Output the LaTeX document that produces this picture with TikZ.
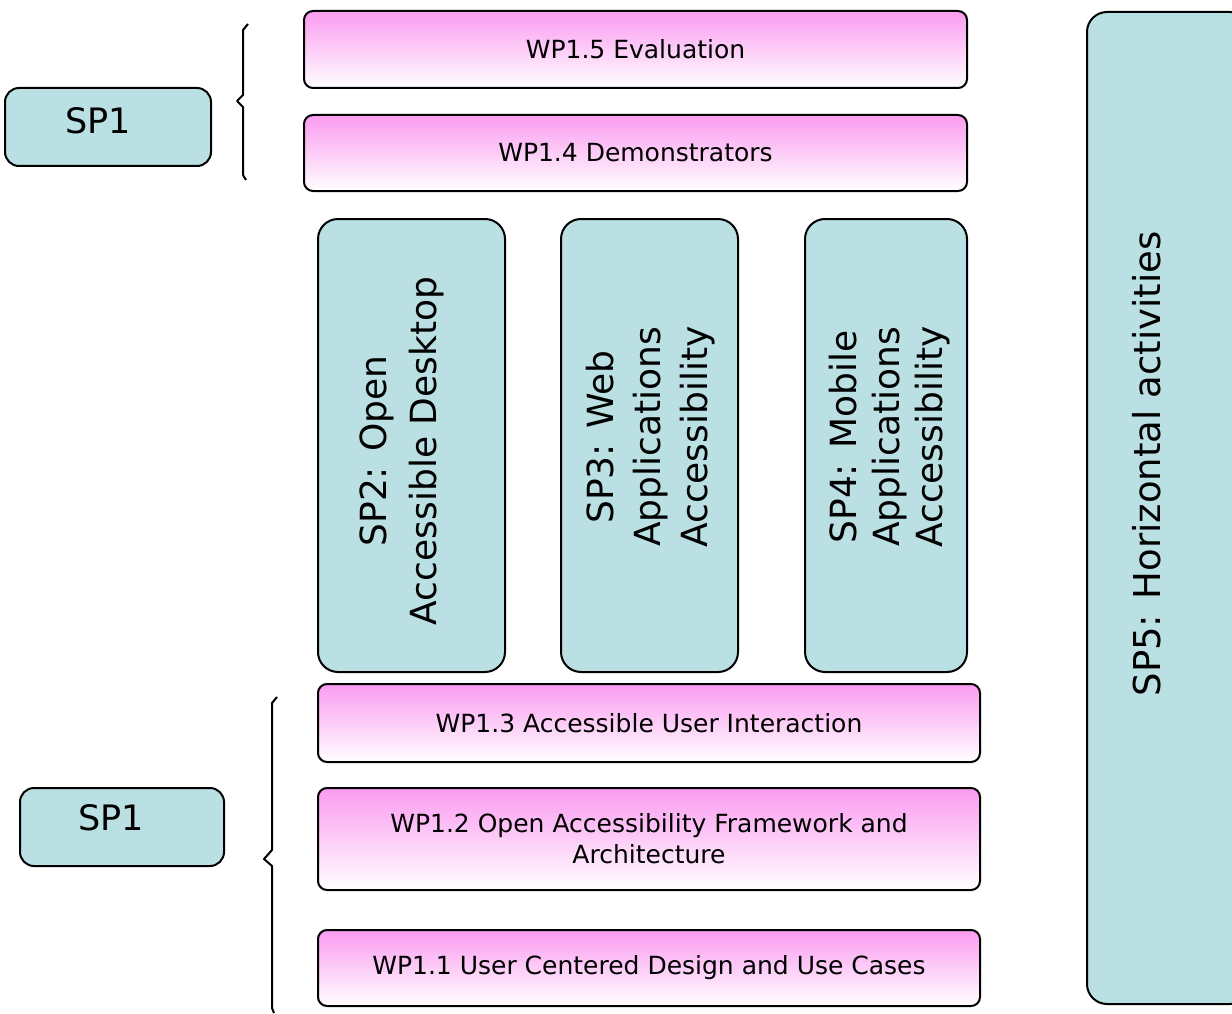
\documentclass[tikz,border=0pt]{standalone}
\usepackage{fontspec}
\setmainfont{DejaVu Sans}
\definecolor{spfill}{RGB}{186,224,227}
\definecolor{pinktop}{RGB}{250,155,240}
\tikzset{
  box/.style={draw=black, line width=2pt, inner sep=0pt, outer sep=0pt},
  wpbox/.style={box, rounded corners=9pt, top color=pinktop, bottom color=white,
    font=\fontsize{25}{31}\selectfont, align=center},
  spbox/.style={box, rounded corners=20pt, fill=spfill},
  sp1box/.style={box, rounded corners=14pt, fill=spfill},
  sptext/.style={rotate=90, align=center, inner sep=0pt},
  sp1text/.style={inner sep=0pt, font=\fontsize{35}{40}\selectfont},
  bracepath/.style={draw=black, line width=2pt, line join=round}
}
\begin{document}
\begin{tikzpicture}[x=1pt,y=-1pt]
  \useasboundingbox (0,0) rectangle (1232,1014);
  \clip (0,0) rectangle (1232,1014);
  \fill[white] (0,0) rectangle (1232,1014);

  % left SP1 boxes
  \node[sp1box, minimum width=206pt, minimum height=78pt] (sp1a) at (108,127) {};
  \node[sp1text] (sp1at) at (98,121) {SP1};
  \node[sp1box, minimum width=204pt, minimum height=78pt] (sp1b) at (122,827) {};
  \node[sp1text] (sp1bt) at (111,818) {SP1};

  % braces
  \draw[bracepath] (248,24) -- (243,30) -- (243,95) -- (237,101) -- (243,107) -- (243,175) -- (246,180);
  \draw[bracepath] (277,697) -- (272,703) -- (272,850) -- (264,859) -- (272,866) -- (272,1008) -- (274,1013);

  % WP boxes top
  \node[wpbox, minimum width=663pt, minimum height=77pt] (wp5) at (635.5,49.5) {WP1.5 Evaluation};
  \node[wpbox, minimum width=663pt, minimum height=76pt] (wp4) at (635.5,153) {WP1.4 Demonstrators};

  % SP2-SP4 columns
  \node[spbox, minimum width=187pt, minimum height=453pt] (sp2) at (411.5,445.5) {};
  \node[sptext, font=\fontsize{36}{50}\selectfont] (sp2t) at (402,451) {SP2: Open\\Accessible Desktop};
  \node[spbox, minimum width=177pt, minimum height=453pt] (sp3) at (649.5,445.5) {};
  \node[sptext, font=\fontsize{36}{47}\selectfont] (sp3t) at (651,437) {SP3: Web\\Applications\\Accessibility};
  \node[spbox, minimum width=162pt, minimum height=453pt] (sp4) at (886,445.5) {};
  \node[sptext, font=\fontsize{36}{43}\selectfont] (sp4t) at (890,437) {SP4: Mobile\\Applications\\Accessibility};

  % WP boxes bottom
  \node[wpbox, minimum width=662pt, minimum height=78pt] (wp3) at (649,723) {WP1.3 Accessible User Interaction};
  \node[wpbox, minimum width=662pt, minimum height=102pt] (wp2) at (649,839) {WP1.2 Open Accessibility Framework and\\Architecture};
  \node[wpbox, minimum width=662pt, minimum height=76pt] (wp1) at (649,968) {WP1.1 User Centered Design and Use Cases};

  % SP5
  \node[spbox, minimum width=163pt, minimum height=992pt] (sp5) at (1168.5,508) {};
  \node[sptext, font=\fontsize{37}{44}\selectfont] (sp5t) at (1147,464) {SP5: Horizontal activities};
\end{tikzpicture}
\end{document}
